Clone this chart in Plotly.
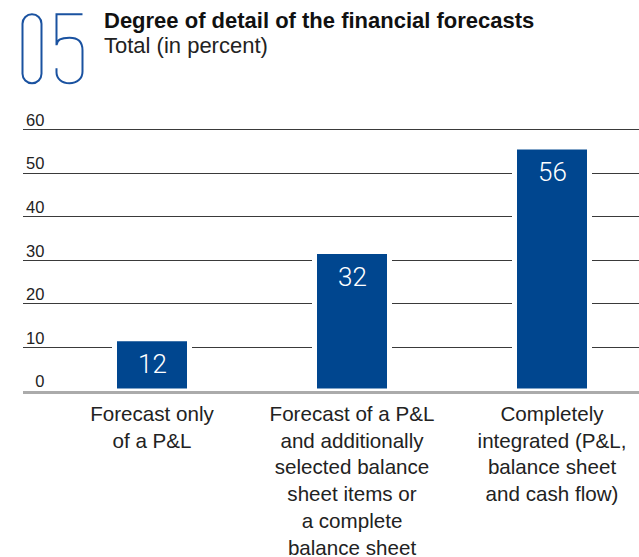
import plotly.graph_objects as go

# ---- data ----
categories = [
    "Forecast only<br>of a P&L",
    "Forecast of a P&L<br>and additionally<br>selected balance<br>sheet items or<br>a complete<br>balance sheet",
    "Completely<br>integrated (P&L,<br>balance sheet<br>and cash flow)",
]
values = [12, 32, 56]
y_ticks = [0, 10, 20, 30, 40, 50, 60]
y_ticktext = [str(v).rjust(2).replace(" ", "\u2007") for v in y_ticks]
title_text = "Degree of detail of the financial forecasts"
subtitle_text = "Total (in percent)"

# ---- geometry helpers (decorative elements only) ----
W, H = 639, 557
Y_MAX = 64.5
SCALE = 4.36           # px per unit
BASE = 391             # pixel row of the value axis origin
ML, MR = 23, 0
MT = BASE - Y_MAX * SCALE
MB = H - BASE
PW, PH = W - ML - MR, H - MT - MB


def px(x):
    return (x - ML) / PW


def py(y):
    return (H - MB - y) / PH


def path(cmds):
    out = []
    for c in cmds:
        if isinstance(c, str):
            out.append(c)
        else:
            out.append(f"{px(c[0]):.5f},{py(c[1]):.5f}")
    return " ".join(out)


BLUE = "#00468f"
LOGO = "#1a52a0"

fig = go.Figure()
fig.add_trace(
    go.Bar(
        x=categories,
        y=values,
        width=0.375,
        marker=dict(color=BLUE, line=dict(color="white", width=5)),
        hoverinfo="skip",
    )
)

for c, v in zip(categories, values):
    fig.add_annotation(
        x=c, y=v, yshift=-25, text=str(v), showarrow=False,
        font=dict(family="Roboto, DejaVu Sans Condensed, sans-serif",
                  size=26, color="white", weight=300),
        xanchor="center", yanchor="middle",
    )

# titles
fig.add_annotation(
    xref="paper", yref="paper", x=px(102), y=py(20), xanchor="left", yanchor="middle",
    text=f"<b>{title_text}</b>", showarrow=False,
    font=dict(family="Liberation Sans, Arial, sans-serif", size=22, color="#111111"),
)
fig.add_annotation(
    xref="paper", yref="paper", x=px(102), y=py(45), xanchor="left", yanchor="middle",
    text=subtitle_text, showarrow=False,
    font=dict(family="Liberation Sans, Arial, sans-serif", size=22, color="#222222"),
)

# decorative "05" logo drawn as thin outlines
L0, R0, T0, B0, r = 22.5, 41.5, 14, 83, 9.5
k = 0.5523 * r
zero = path([
    "M", (L0, T0 + r),
    "C", (L0, T0 + r - k), (L0 + r - k, T0), (L0 + r, T0),
    "C", (R0 - r + k, T0), (R0, T0 + r - k), (R0, T0 + r),
    "L", (R0, B0 - r),
    "C", (R0, B0 - r + k), (R0 - r + k, B0), (R0 - r, B0),
    "C", (L0 + r - k, B0), (L0, B0 - r + k), (L0, B0 - r),
    "Z",
])
five = path([
    "M", (82.5, 14), "L", (56.5, 14), "L", (56.5, 45),
    "C", (56.5, 40), (61, 37.5), (69.5, 37.5),
    "C", (78, 37.5), (82.5, 42), (82.5, 50),
    "L", (82.5, 71.5),
    "C", (82.5, 78.5), (77, 83), (69.5, 83),
    "C", (62, 83), (56.5, 78.5), (56.5, 72),
    "L", (56.5, 68),
])
for p in (zero, five):
    fig.add_shape(type="path", xref="paper", yref="paper", path=p,
                  line=dict(color=LOGO, width=2), fillcolor="rgba(0,0,0,0)")

fig.update_layout(
    width=W, height=H,
    margin=dict(l=ML, r=MR, t=MT, b=MB, pad=0, autoexpand=False),
    paper_bgcolor="white", plot_bgcolor="white",
    showlegend=False,
    font=dict(family="Liberation Sans, Arial, sans-serif", color="#222222"),
)
fig.update_xaxes(
    type="category", range=[-0.645, 2.435], automargin=False,
    showgrid=False, zeroline=False,
    showline=True, linecolor="#ababab", linewidth=3,
    ticks="", tickfont=dict(size=20.6, color="#222222"),
    ticklabelstandoff=2,
    fixedrange=True,
)
fig.update_yaxes(
    range=[0, Y_MAX], tickvals=y_ticks, ticktext=y_ticktext, automargin=False,
    showgrid=True, gridcolor="#3a3a3a", gridwidth=1,
    zeroline=False, showline=False, ticks="",
    ticklabelposition="inside top", ticklabelshift=2, ticklabelstandoff=0,
    tickfont=dict(size=16.5, color="#222222"),
    fixedrange=True,
)

fig.write_html(
    "out.html",
    config={"displayModeBar": False},
    post_script="document.body.style.margin='0';document.body.style.padding='0';",
)
